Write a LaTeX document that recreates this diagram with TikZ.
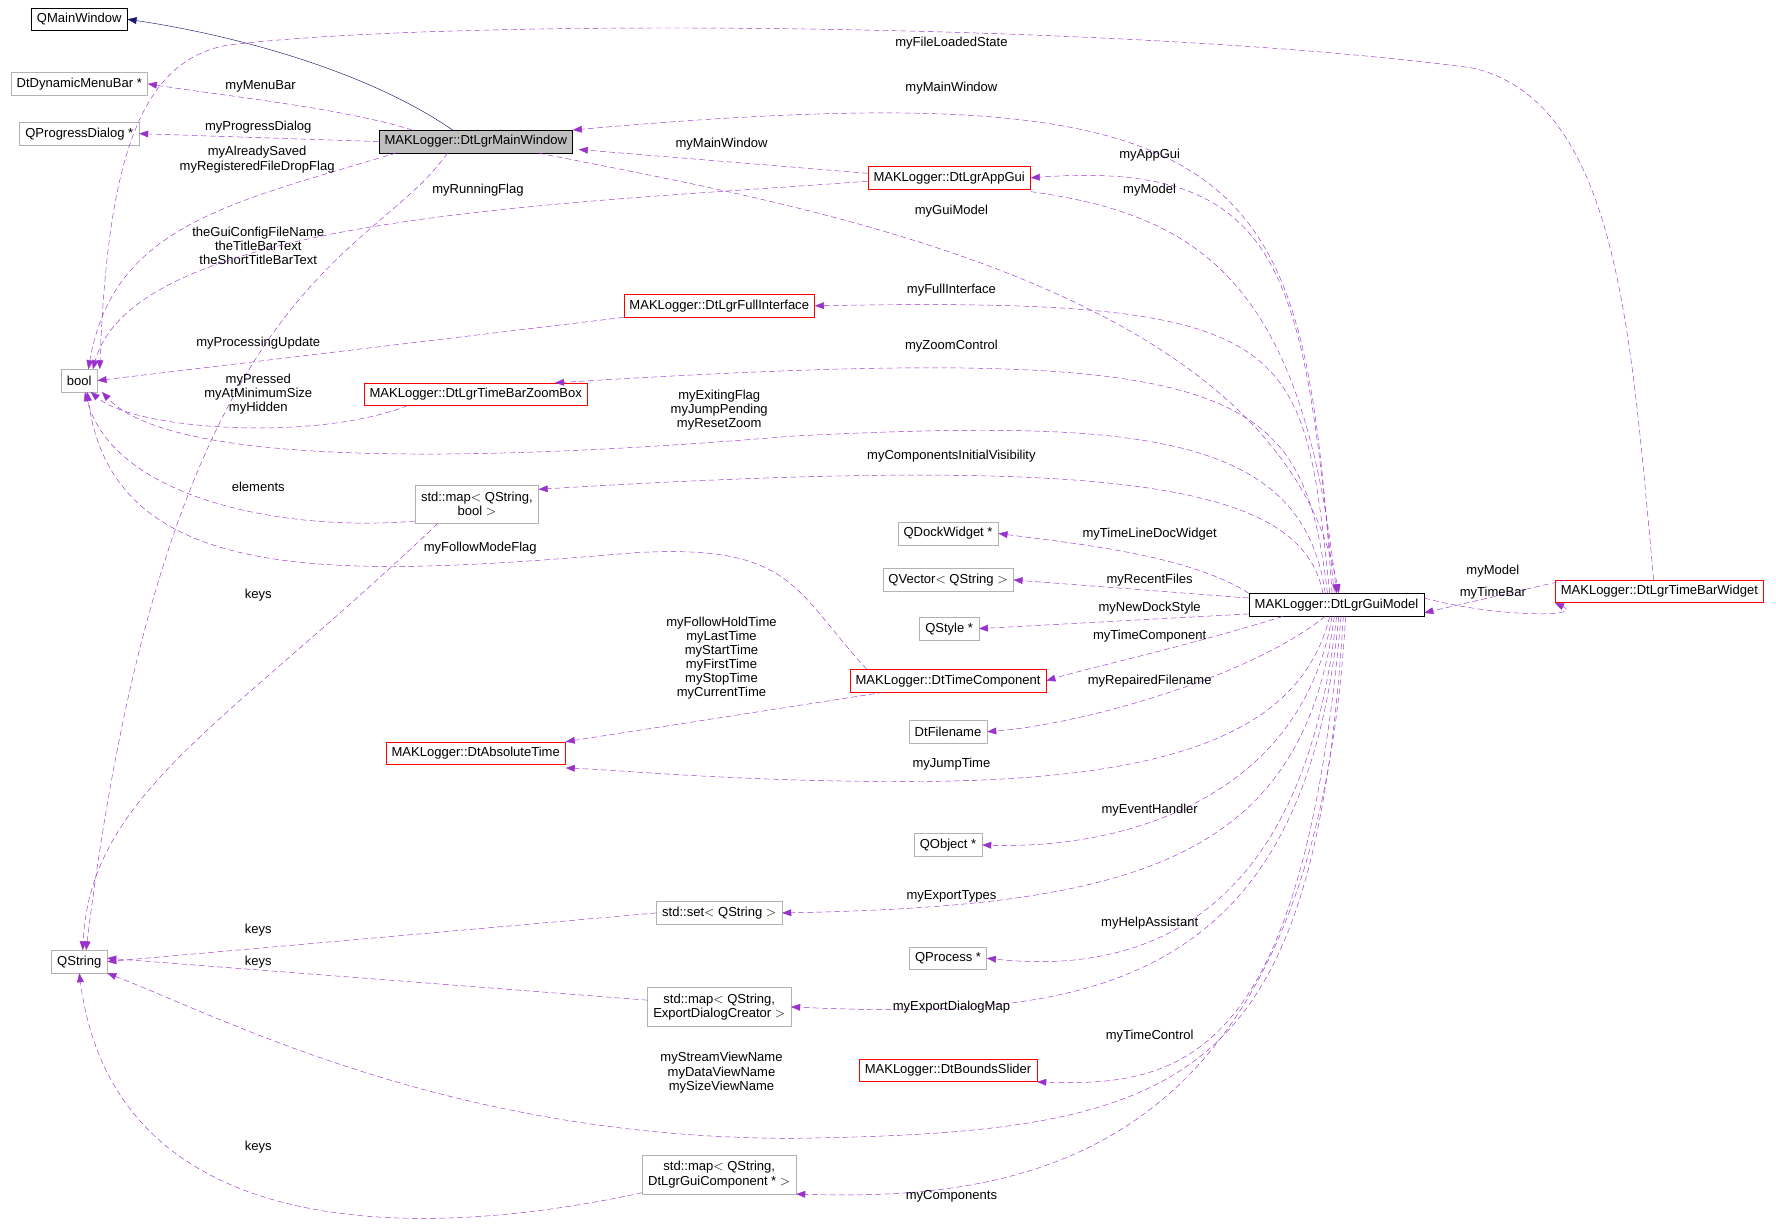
\documentclass[tikz,border=0pt]{standalone}
\usepackage{fontspec}
\setmainfont{Liberation Sans}
\usetikzlibrary{arrows.meta}
\definecolor{dp}{RGB}{153,50,204}
\definecolor{nv}{RGB}{25,25,112}
\begin{document}
\begin{tikzpicture}[x=1pt,y=-1pt,
  every node/.style={font=\fontsize{11.5}{12.5}\selectfont},
  box/.style={draw=gray!60,fill=white,inner xsep=5pt,inner ysep=0pt,minimum height=20pt,align=center},
  rbox/.style={box,draw=red},
  bbox/.style={box,draw=black},
  dep/.style={draw=dp,dash pattern=on 5pt off 3pt,-{Triangle[length=8pt,width=6pt]}},
  lbl/.style={align=center,inner sep=0pt,font=\fontsize{11.5}{12.5}\selectfont}]
\useasboundingbox (0,0) rectangle (1568,1082);
\node[bbox] (qmw) at (70,17) {QMainWindow};
\node[box] (menu) at (70,74) {DtDynamicMenuBar *};
\node[box] (prog) at (70,118) {QProgressDialog *};
\node[bbox,fill=gray!50] (mw) at (420,125) {MAKLogger::DtLgrMainWindow};
\node[box] (bool) at (70,336) {bool};
\node[box] (qs) at (70,849) {QString};
\node[rbox] (app) at (838,157) {MAKLogger::DtLgrAppGui};
\node[rbox] (full) at (635,270) {MAKLogger::DtLgrFullInterface};
\node[rbox] (zoom) at (420,348) {MAKLogger::DtLgrTimeBarZoomBox};
\node[box,minimum height=34pt] (mapb) at (421,445) {std::map$<$ QString,\\ bool $>$};
\node[box] (dock) at (837,471) {QDockWidget *};
\node[box] (qvec) at (837,512) {QVector$<$ QString $>$};
\node[box] (qsty) at (838,555) {QStyle *};
\node[rbox] (tc) at (837,601) {MAKLogger::DtTimeComponent};
\node[box] (fn) at (837,646) {DtFilename};
\node[rbox] (abs) at (420,665) {MAKLogger::DtAbsoluteTime};
\node[box] (qobj) at (837,746) {QObject *};
\node[box] (set) at (635,806) {std::set$<$ QString $>$};
\node[box] (qproc) at (837,846) {QProcess *};
\node[box,minimum height=34pt] (mape) at (635,889) {std::map$<$ QString,\\ ExportDialogCreator $>$};
\node[rbox] (bs) at (837,945) {MAKLogger::DtBoundsSlider};
\node[box,minimum height=34pt] (mapc) at (635,1037) {std::map$<$ QString,\\ DtLgrGuiComponent * $>$};
\node[bbox] (gm) at (1180,534) {MAKLogger::DtLgrGuiModel};
\node[rbox] (tb) at (1465,522) {MAKLogger::DtLgrTimeBarWidget};

% inheritance
\draw[nv,-{Triangle[length=8pt,width=6pt]}] (400,115) .. controls (320,60) and (200,30) .. (qmw.east);
% main window edges
\draw[dep] (mw.north west) ++(30,0) .. controls (300,95) and (200,85) .. (menu.east);
\node[lbl] at (230,76) {myMenuBar};
\draw[dep] (mw.west) -- (prog.east);
\node[lbl] at (228,112) {myProgressDialog};
\draw[dep] (350,135) .. controls (200,180) and (100,200) .. (78,326);
\node[lbl] at (227,141) {myAlreadySaved\\myRegisteredFileDropFlag};
\draw[dep] (395,135) .. controls (330,230) and (150,240) .. (76,839);
\node[lbl] at (228,217) {theGuiConfigFileName\\theTitleBarText\\theShortTitleBarText};
\draw[dep] (app.west) ++(0,3) .. controls (500,180) and (120,190) .. (82,326);
\node[lbl] at (422,168) {myRunningFlag};
\draw[dep] (1460,512) .. controls (1440,300) and (1430,90) .. (1300,60) .. controls (1000,20) and (400,15) .. (200,40) .. controls (120,55) and (95,150) .. (88,326);
\node[lbl] at (840,38) {myFileLoadedState};
\draw[dep] (gm.north) ++(-4,0) .. controls (1150,150) and (1120,60) .. (mw.north east);
\node[lbl] at (840,78) {myMainWindow};
\draw[dep] (app.west) ++(0,-4) -- (511,132);
\node[lbl] at (637,127) {myMainWindow};
\draw[dep] (gm.north) ++(-2,0) .. controls (1150,250) and (1140,140) .. (app.east);
\node[lbl] at (1015,137) {myAppGui};
\draw[dep] (app.south east) ++(0,2) .. controls (1060,190) and (1150,250) .. (gm.north);
\node[lbl] at (1015,168) {myModel};
\draw[dep] (mw.south east) ++(-30,0) .. controls (700,180) and (1130,250) .. ([xshift=2pt]gm.north);
\node[lbl] at (840,186) {myGuiModel};
\draw[dep] (gm.north) ++(-6,0) .. controls (1150,300) and (1150,262) .. (full.east);
\node[lbl] at (840,256) {myFullInterface};
\draw[dep] (full.south west) -- (bool.east);
\node[lbl] at (228,303) {myProcessingUpdate};
\draw[dep] (gm.north) ++(-8,0) .. controls (1150,340) and (1100,300) .. (490,338);
\node[lbl] at (840,306) {myZoomControl};
\draw[dep] (360,358) .. controls (280,390) and (120,380) .. (80,346);
\node[lbl] at (228,348) {myPressed\\myAtMinimumSize\\myHidden};
\draw[dep] (gm.north) ++(-10,0) .. controls (1150,380) and (1000,370) .. (700,385) .. controls (400,410) and (150,410) .. (90,346);
\node[lbl] at (635,362) {myExitingFlag\\myJumpPending\\myResetZoom};
\draw[dep] (gm.north) ++(-12,0) .. controls (1150,430) and (1000,400) .. (mapb.east |- 0,432);
\node[lbl] at (840,403) {myComponentsInitialVisibility};
\draw[dep] (mapb.west) ++(0,15) .. controls (250,470) and (100,440) .. (75,346);
\node[lbl] at (228,430) {elements};
\draw[dep] (mapb.south west) ++(20,0) .. controls (200,640) and (80,700) .. (73,839);
\node[lbl] at (228,525) {keys};
\draw[dep] (tc.north west) ++(15,0) .. controls (700,520) and (700,480) .. (560,488) .. controls (300,510) and (100,520) .. (77,346);
\node[lbl] at (424,484) {myFollowModeFlag};
\draw[dep] (gm.north west) ++(0,0) .. controls (1050,490) and (950,480) .. (dock.east);
\node[lbl] at (1015,472) {myTimeLineDocWidget};
\draw[dep] (gm.west) ++(0,-6) -- (qvec.east);
\node[lbl] at (1015,512) {myRecentFiles};
\draw[dep] (gm.west) ++(0,8) -- (qsty.east);
\node[lbl] at (1015,537) {myNewDockStyle};
\draw[dep] (gm.south west) ++(30,0) .. controls (1050,570) and (960,590) .. (tc.east);
\node[lbl] at (1015,562) {myTimeComponent};
\draw[dep] (tc.south west) ++(30,0) -- (abs.north east);
\node[lbl] at (637,581) {myFollowHoldTime\\myLastTime\\myStartTime\\myFirstTime\\myStopTime\\myCurrentTime};
\draw[dep] (gm.south) ++(-10,0) .. controls (1100,600) and (950,640) .. (fn.east);
\node[lbl] at (1015,601) {myRepairedFilename};
\draw[dep] (gm.south) ++(-6,0) .. controls (1150,640) and (1050,690) .. (800,690) .. controls (650,690) and (550,680) .. (abs.east |- 0,678);
\node[lbl] at (840,675) {myJumpTime};
\draw[dep] (gm.south) ++(-4,0) .. controls (1150,700) and (1000,750) .. (qobj.east);
\node[lbl] at (1015,715) {myEventHandler};
\draw[dep] (gm.south) ++(-2,0) .. controls (1150,760) and (1000,800) .. (set.east);
\node[lbl] at (840,791) {myExportTypes};
\draw[dep] (set.west) -- (qs.east);
\node[lbl] at (228,821) {keys};
\draw[dep] (gm.south) .. controls (1150,820) and (1000,860) .. (qproc.east);
\node[lbl] at (1015,815) {myHelpAssistant};
\draw[dep] (gm.south) ++(2,0) .. controls (1150,880) and (950,900) .. (mape.east);
\node[lbl] at (840,889) {myExportDialogMap};
\draw[dep] (mape.west) ++(0,-6) -- ([yshift=3pt]qs.east);
\node[lbl] at (228,849) {keys};
\draw[dep] (gm.south) ++(4,0) .. controls (1150,930) and (1050,960) .. (bs.south east);
\node[lbl] at (1015,915) {myTimeControl};
\draw[dep] (gm.south) ++(6,0) .. controls (1160,960) and (1050,1000) .. (700,1005) .. controls (400,1005) and (200,900) .. (qs.south east);
\node[lbl] at (637,947) {myStreamViewName\\myDataViewName\\mySizeViewName};
\draw[dep] (gm.south) ++(8,0) .. controls (1160,1030) and (900,1060) .. (mapc.south east);
\node[lbl] at (840,1056) {myComponents};
\draw[dep] (mapc.west) ++(0,16) .. controls (350,1100) and (100,1090) .. (qs.south);
\node[lbl] at (228,1013) {keys};
\draw[dep] (tb.west) ++(10,-10) -- ([yshift=-7pt]gm.east);
\node[lbl] at (1318,504) {myModel};
\draw[dep] ([yshift=6pt]gm.east) .. controls (1320,545) and (1400,545) .. (tb.south west);
\node[lbl] at (1318,524) {myTimeBar};
\end{tikzpicture}
\end{document}
